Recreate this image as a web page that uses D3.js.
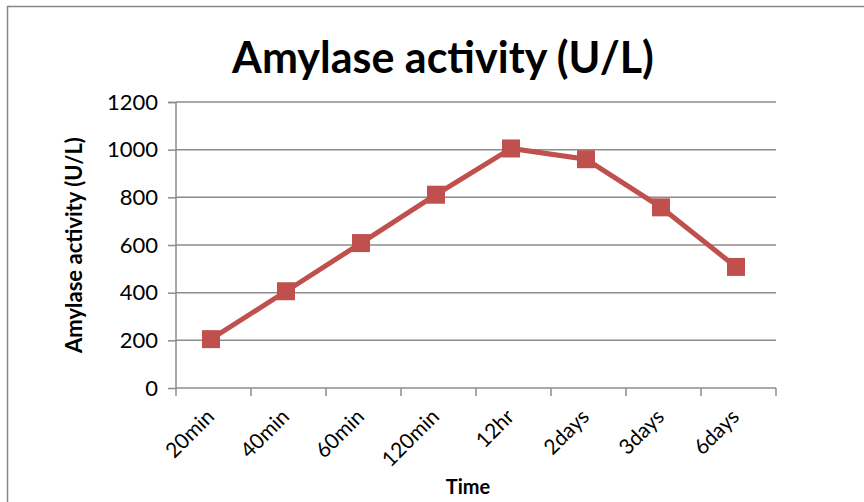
<!DOCTYPE html>
<html>
<head>
<meta charset="utf-8">
<script src="https://cdn.jsdelivr.net/npm/d3@7"></script>
<style>
  body { margin: 0; background: #fff; }
  text { font-family: Lato, "Open Sans", sans-serif; }
</style>
</head>
<body>
<div id="chart"></div>
<script>
var svgWidth = 864;
var svgHeight = 502;

// data
var categories = ["20min", "40min", "60min", "120min", "12hr", "2days", "3days", "6days"];
var activity = [205, 406, 608, 811, 1005, 960, 758, 508];
var yTicks = [0, 200, 400, 600, 800, 1000, 1200];

var margin = {top: 102, left: 176, right: 88, bottom: 114};
var width = svgWidth - margin.left - margin.right;
var height = svgHeight - margin.top - margin.bottom;

var svg = d3.select("#chart")
    .append("svg")
    .attr("width", svgWidth)
    .attr("height", svgHeight);

// outer border of the chart area
svg.append("rect")
    .attr("x", 7.5)
    .attr("y", 6.5)
    .attr("width", 870)
    .attr("height", 520)
    .attr("fill", "none")
    .attr("stroke", "#868686")
    .attr("stroke-width", 1.5);

var chart = svg.append("g")
    .attr("transform", `translate(${margin.left}, ${margin.top})`);

var x = d3.scaleBand()
    .domain(categories)
    .range([0, width]);

var y = d3.scaleLinear()
    .domain([0, 1200])
    .range([height, 0]);

// gridlines
chart.selectAll(".grid")
    .data(yTicks.slice(1))
    .enter()
    .append("line")
    .attr("x1", 0)
    .attr("x2", width)
    .attr("y1", d => y(d))
    .attr("y2", d => y(d))
    .attr("stroke", "#8c8c8c")
    .attr("stroke-width", 1.5);

// y axis
var yAxis = chart.append("g")
    .call(d3.axisLeft(y).tickValues(yTicks).tickFormat(d3.format("d")).tickSize(8).tickPadding(10));
yAxis.selectAll("text").attr("font-size", 22).attr("fill", "#000");

// x axis, ticks on the category boundaries
var xAxisG = chart.append("g")
    .attr("transform", `translate(0,${height})`);
xAxisG.append("line")
    .attr("x1", 0).attr("x2", width)
    .attr("stroke", "#8c8c8c").attr("stroke-width", 1.5);
xAxisG.selectAll(".tk")
    .data(d3.range(categories.length + 1))
    .enter()
    .append("line")
    .attr("x1", i => i * x.step())
    .attr("x2", i => i * x.step())
    .attr("y1", 0)
    .attr("y2", 8)
    .attr("stroke", "#8c8c8c")
    .attr("stroke-width", 1.5);
xAxisG.selectAll(".lbl")
    .data(categories)
    .enter()
    .append("text")
    .attr("text-anchor", "end")
    .attr("font-size", 21)
    .attr("transform", d => `translate(${x(d) + x.bandwidth() / 2 + 2},${30}) rotate(-45)`)
    .text(d => d);

yAxis.selectAll("path, line").attr("stroke", "#8c8c8c").attr("stroke-width", 1.5);
yAxis.select(".domain").attr("d", `M-8,0.5H0V${height}`);

// line + square markers (sit slightly left of band centre in the original)
var cx = d => x(d) + x.bandwidth() / 2 - 2.5;

var line = d3.line()
    .x((d, i) => cx(categories[i]))
    .y(d => y(d));

chart.append("path")
    .datum(activity)
    .attr("d", line)
    .attr("fill", "none")
    .attr("stroke", "#C0504D")
    .attr("stroke-width", 5);

chart.selectAll(".mk")
    .data(activity)
    .enter()
    .append("rect")
    .attr("x", (d, i) => cx(categories[i]) - 9)
    .attr("y", d => y(d) - 9)
    .attr("width", 18)
    .attr("height", 18)
    .attr("fill", "#C0504D");

// titles
svg.append("text")
    .attr("x", 443)
    .attr("y", 73)
    .attr("text-anchor", "middle")
    .attr("font-size", 43)
    .attr("font-weight", "bold")
    .text("Amylase activity (U/L)");

svg.append("text")
    .attr("x", 468)
    .attr("y", 494)
    .attr("text-anchor", "middle")
    .attr("font-size", 20)
    .attr("font-weight", "bold")
    .text("Time");

svg.append("text")
    .attr("transform", `translate(82, ${margin.top + height / 2}) rotate(-90)`)
    .attr("text-anchor", "middle")
    .attr("font-size", 22)
    .attr("font-weight", "bold")
    .text("Amylase activity (U/L)");
</script>
</body>
</html>
